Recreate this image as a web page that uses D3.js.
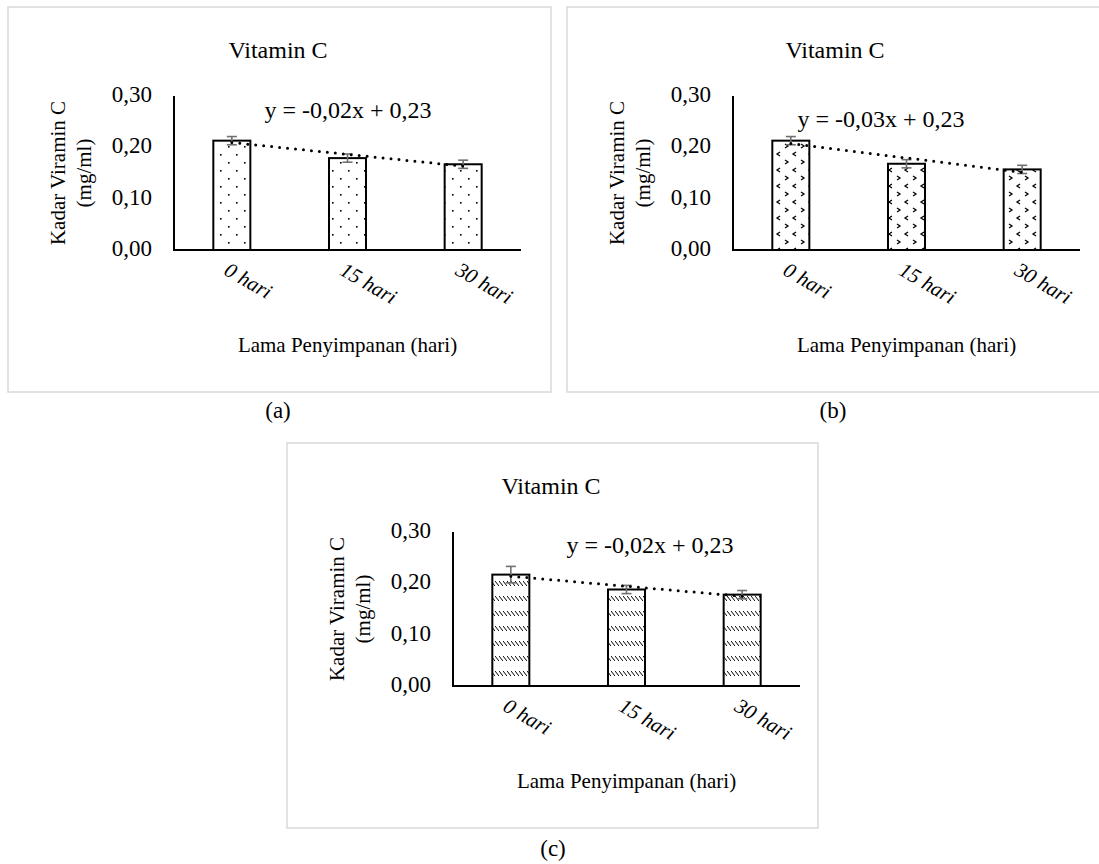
<!DOCTYPE html>
<html>
<head>
<meta charset="utf-8">
<script src="https://cdn.jsdelivr.net/npm/d3@7"></script>
<style>
  html, body { margin: 0; padding: 0; background: #fff; }
  svg { display: block; }
</style>
</head>
<body>
<svg id="chart" width="1099" height="864"></svg>
<script>
const categories = ["0 hari", "15 hari", "30 hari"];
const valuesA = [0.213, 0.179, 0.167];
const errorsA = [0.008, 0.008, 0.008];
const valuesB = [0.213, 0.168, 0.157];
const errorsB = [0.008, 0.008, 0.008];
const valuesC = [0.217, 0.188, 0.178];
const errorsC = [0.016, 0.008, 0.008];
const equations = ["y = -0,02x + 0,23", "y = -0,03x + 0,23", "y = -0,02x + 0,23"];
const yTicks = [0, 0.1, 0.2, 0.3];
const panelLabels = ["(a)", "(b)", "(c)"];
const chartTitle = "Vitamin C";
const yTitleLines = ["Kadar Viramin C", "(mg/ml)"];
const xTitle = "Lama Penyimpanan (hari)";

const FONT = "'Liberation Serif', 'Times New Roman', Times, serif";
const svg = d3.select("#chart").style("font-family", FONT);
const defs = svg.append("defs");

// Pattern (a): staggered dots
const pA = defs.append("pattern").attr("id", "patA").attr("patternUnits", "userSpaceOnUse")
  .attr("width", 16).attr("height", 16);
pA.append("rect").attr("width", 16).attr("height", 16).attr("fill", "#fff");
pA.append("rect").attr("x", 4).attr("y", 3).attr("width", 1.6).attr("height", 1.6).attr("fill", "#000");
pA.append("rect").attr("x", 12).attr("y", 11).attr("width", 1.6).attr("height", 1.6).attr("fill", "#000");

// Pattern (b): small chevrons
const pB = defs.append("pattern").attr("id", "patB").attr("patternUnits", "userSpaceOnUse")
  .attr("width", 16).attr("height", 16);
pB.append("rect").attr("width", 16).attr("height", 16).attr("fill", "#fff");
pB.append("path").attr("d", "M5,1 L2,3 L5,5").attr("fill", "none").attr("stroke", "#000").attr("stroke-width", 1.3);
pB.append("path").attr("d", "M10,9 L13,11 L10,13").attr("fill", "none").attr("stroke", "#000").attr("stroke-width", 1.3);

// Pattern (c): rows of short backslashes
const pC = defs.append("pattern").attr("id", "patC").attr("patternUnits", "userSpaceOnUse")
  .attr("width", 4).attr("height", 15);
pC.append("rect").attr("width", 4).attr("height", 15).attr("fill", "#fff");
pC.append("path").attr("d", "M0,3 L4,8").attr("stroke", "#000").attr("stroke-width", 1);

const panels = [
  { x: 8, y: 7, w: 543, h: 385, values: valuesA, errors: errorsA, pat: "patA", eq: equations[0],
    eqX: 340, eqY: 103, titleX: 270, label: panelLabels[0], labelX: 278, labelY: 418 },
  { x: 567, y: 7, w: 543, h: 385, values: valuesB, errors: errorsB, pat: "patB", eq: equations[1],
    eqX: 314, eqY: 112, titleX: 268, label: panelLabels[1], labelX: 833, labelY: 418 },
  { x: 287, y: 443, w: 531, h: 385, values: valuesC, errors: errorsC, pat: "patC", eq: equations[2],
    eqX: 363, eqY: 102, titleX: 264, label: panelLabels[2], labelX: 553, labelY: 856 }
];

const fmt = v => d3.format(".2f")(v).replace(".", ",");

function txt(sel) { return sel.style("font-family", FONT).attr("fill", "#000"); }

panels.forEach(p => {
  const g = svg.append("g").attr("transform", `translate(${p.x},${p.y})`);
  g.append("rect").attr("x", 0).attr("y", 0).attr("width", p.w).attr("height", p.h)
    .attr("fill", "#fff").attr("stroke", "#d9d9d9").attr("stroke-width", 1.5);

  const left = 166, right = 513, top = 89, bottom = 243;
  const x = d3.scaleBand().domain(categories).range([left, right]).paddingInner(0.68).paddingOuter(0.34);
  const y = d3.scaleLinear().domain([0, 0.3]).range([bottom, top]);

  // title
  txt(g.append("text")).attr("x", p.titleX).attr("y", 51).attr("text-anchor", "middle")
    .attr("font-size", 24).text(chartTitle);

  // y tick labels
  txt(g.selectAll(".ytl").data(yTicks).join("text"))
    .attr("x", left - 22).attr("y", d => y(d) + 6).attr("text-anchor", "end")
    .attr("font-size", 23).text(fmt);

  // y axis title
  const ycx = (top + bottom) / 2;
  yTitleLines.forEach((t, i) => {
    const bx = left - 109 + i * 26;
    txt(g.append("text")).attr("transform", `translate(${bx},${ycx}) rotate(-90)`)
      .attr("text-anchor", "middle").attr("font-size", 21).text(t);
  });

  // bars
  g.selectAll(".bar").data(p.values).join("rect")
    .attr("x", (d, i) => x(categories[i])).attr("width", x.bandwidth())
    .attr("y", d => y(d)).attr("height", d => y(0) - y(d))
    .attr("fill", `url(#${p.pat})`).attr("stroke", "#000").attr("stroke-width", 2);

  // error bars
  const cx = i => x(categories[i]) + x.bandwidth() / 2;
  p.values.forEach((v, i) => {
    const e = p.errors[i];
    const eg = g.append("g").attr("stroke", "#6f6f6f").attr("stroke-width", 1.6);
    eg.append("line").attr("x1", cx(i)).attr("x2", cx(i)).attr("y1", y(v + e)).attr("y2", y(v - e));
    eg.append("line").attr("x1", cx(i) - 5).attr("x2", cx(i) + 5).attr("y1", y(v + e)).attr("y2", y(v + e));
    eg.append("line").attr("x1", cx(i) - 5).attr("x2", cx(i) + 5).attr("y1", y(v - e)).attr("y2", y(v - e));
  });

  // trendline (least squares over x = 1..n)
  const n = p.values.length;
  const xs = d3.range(1, n + 1);
  const mx = d3.mean(xs), my = d3.mean(p.values);
  const slope = d3.sum(xs, (xx, i) => (xx - mx) * (p.values[i] - my)) / d3.sum(xs, xx => (xx - mx) ** 2);
  const icpt = my - slope * mx;
  g.append("line")
    .attr("x1", cx(0)).attr("y1", y(icpt + slope * 1))
    .attr("x2", cx(n - 1)).attr("y2", y(icpt + slope * n))
    .attr("stroke", "#000").attr("stroke-width", 3).attr("stroke-linecap", "round")
    .attr("stroke-dasharray", "0,8");

  // equation
  txt(g.append("text")).attr("x", p.eqX).attr("y", p.eqY + 8).attr("text-anchor", "middle")
    .attr("font-size", 24).text(p.eq);

  // axes lines
  g.append("line").attr("x1", left).attr("x2", left).attr("y1", top).attr("y2", bottom + 1)
    .attr("stroke", "#000").attr("stroke-width", 2);
  g.append("line").attr("x1", left - 1).attr("x2", right).attr("y1", bottom).attr("y2", bottom)
    .attr("stroke", "#000").attr("stroke-width", 2);

  // x tick labels, italic rotated
  categories.forEach((c, i) => {
    txt(g.append("text")).attr("transform", `translate(${cx(i) - 9},${bottom + 24}) rotate(30)`)
      .attr("font-size", 21).attr("font-style", "italic").text(c);
  });

  // x axis title
  txt(g.append("text")).attr("x", (left + right) / 2).attr("y", 345).attr("text-anchor", "middle")
    .attr("font-size", 21).text(xTitle);

  // panel label (outside frame)
  txt(svg.append("text")).attr("x", p.labelX).attr("y", p.labelY).attr("text-anchor", "middle")
    .attr("font-size", 23).text(p.label);
});
</script>
</body>
</html>
